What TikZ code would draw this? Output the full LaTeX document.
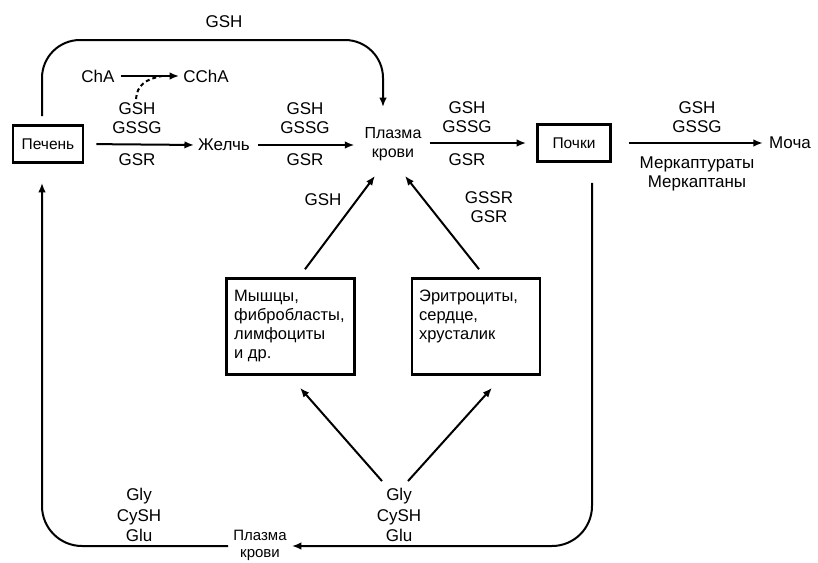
\documentclass[tikz,border=0pt]{standalone}
\usepackage{fontspec}
\setmainfont{Liberation Sans}
\usetikzlibrary{arrows.meta}
\begin{document}
\begin{tikzpicture}[x=1pt,y=-1pt,
  lbl/.style={inner sep=0pt,align=center,font=\fontsize{17}{19}\selectfont},
  boxn/.style={draw,line width=2.6pt,inner sep=0pt,font=\fontsize{15.5}{18}\selectfont},
  cellbox/.style={draw,line width=2.6pt,inner sep=0pt,minimum width=128pt,minimum height=96pt},
  celltext/.style={inner sep=0pt,align=left,anchor=north west,font=\fontsize{16.5}{19}\selectfont},
  arr/.style={line width=2pt,-{Latex[length=9.5pt,width=7.5pt]}},
  ln/.style={line width=2pt}]
\useasboundingbox (0,0) rectangle (818,562);
% nodes
\node[boxn,minimum width=70pt,minimum height=37pt] (liver) at (48,144) {Печень};
\node[lbl] (bile) at (224,145) {Желчь};
\node[lbl,font=\fontsize{16}{19}\selectfont] (plasma) at (393,144) {Плазма\\крови};
\node[boxn,minimum width=73pt,minimum height=37pt] (kidney) at (574,143) {Почки};
\node[lbl] (urine) at (790,143) {Моча};
\node[lbl] (cha) at (98,76) {ChA};
\node[lbl] (ccha) at (206,76) {CChA};
\node[cellbox] (muscle) at (290.5,326.5) {};
\node[celltext] (muscletxt) at (234,290) {Мышцы,\\фибробласты,\\лимфоциты\\и др.};
\node[cellbox] (ery) at (476,326.5) {};
\node[celltext] (erytxt) at (419,290) {Эритроциты,\\сердце,\\хрусталик};
\node[lbl,font=\fontsize{17}{20.5}\selectfont] (gly2) at (399,515) {Gly\\CySH\\Glu};
\node[lbl,font=\fontsize{17}{20.5}\selectfont] (gly1) at (139,515) {Gly\\CySH\\Glu};
\node[lbl,font=\fontsize{15}{17}\selectfont,inner xsep=5pt] (plasma2) at (260,545) {Плазма\\крови};
% labels
\node[lbl] (gshtop) at (224,22) {GSH};
\node[lbl] (l1a) at (137,118) {GSH\\GSSG};
\node[lbl] (l1b) at (137,160) {GSR};
\node[lbl] (l2a) at (305,118) {GSH\\GSSG};
\node[lbl] (l2b) at (305,160) {GSR};
\node[lbl] (l3a) at (467,117) {GSH\\GSSG};
\node[lbl] (l3b) at (467,160) {GSR};
\node[lbl] (l4a) at (697,117) {GSH\\GSSG};
\node[lbl] (l4b) at (697,174) {Меркаптураты\\Меркаптаны};
\node[lbl] (l5) at (323,200) {GSH};
\node[lbl] (l6) at (489,207) {GSSR\\GSR};
% coordinates
\coordinate (tl) at (42,40);
\coordinate (tr) at (383,40);
\coordinate (bl) at (42,546);
\coordinate (br) at (592,546);
% connectors
\draw[arr,shorten <=12pt,shorten >=4pt] (liver.east) -- (bile.west);
\draw[arr,shorten <=8pt,shorten >=10pt] (bile.east) -- (plasma.west |- bile.east);
\draw[arr,shorten <=8pt,shorten >=10pt] (plasma.east |- kidney.west) -- (kidney.west);
\draw[arr,shorten <=17pt,shorten >=6pt] (kidney.east) -- (urine.west);
\draw[arr,rounded corners=38pt,shorten <=8pt,shorten >=20pt] (liver.north -| tl) -- (tl) -- (tr) -- (plasma.north -| tr);
\draw[arr,shorten >=4pt] (cha.east) ++(6,0) coordinate (chas) -- (ccha.west);
\draw[line width=2pt,dash pattern=on 4pt off 3pt] (136,99) .. controls (137,85) and (146,79) .. (162,76);
\draw[arr] (muscle.north -| 305,0) ++(0,-8) -- ([xshift=-18pt,yshift=-15pt]plasma.south);
\draw[arr] (ery.north -| 479,0) ++(0,-8) -- ([xshift=12pt,yshift=-15pt]plasma.south);
\draw[arr] ([xshift=-17pt,yshift=7pt]gly2.north) -- ([xshift=9.5pt,yshift=-12pt]muscle.south);
\draw[arr] ([xshift=9pt,yshift=7pt]gly2.north) -- ([xshift=16pt,yshift=-12pt]ery.south);
\draw[arr,rounded corners=40pt] (kidney.south -| br) ++(0,20) -- (br) -- (plasma2.east |- br);
\draw[arr,rounded corners=40pt,shorten >=19pt] (plasma2.west |- bl) -- (bl) -- (liver.south -| bl);
\end{tikzpicture}
\end{document}
